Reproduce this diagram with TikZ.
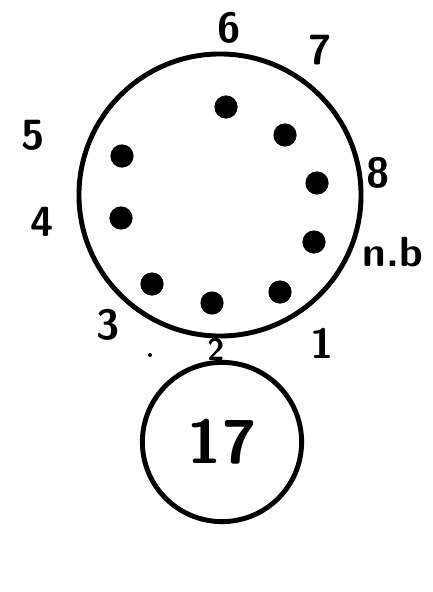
\documentclass[tikz,border=0pt]{standalone}
\usetikzlibrary{positioning}
\begin{document}
\begin{tikzpicture}[x=0.025cm,y=-0.025cm,line cap=round,line join=round]
  \tikzset{
    pin/.style={circle,fill,inner sep=0pt,minimum size=0.58cm},
    rim/.style={draw,circle,line width=3.5pt,inner sep=0pt},
    pinlabel/.style={font=\fontsize{30}{30}\selectfont\sffamily\bfseries,inner sep=0pt},
  }
  \useasboundingbox (0,0) rectangle (433,592);

  % Socket and base
  \node[rim,minimum size=7.05cm] (socket) at (220,195) {};
  \node[rim,minimum size=3.98cm,font=\fontsize{44}{44}\selectfont\sffamily\bfseries] (base) at (222,442) {17};

  % Pins
  \foreach \px/\py [count=\i] in {226/107,285/135,317/183,314/242,280/292,212/303,152/284,121/218,122/156}
    \node[pin] (p\i) at (\px,\py) {};

  % Pin numbers
  \node[pinlabel] (l1) at (322,343) {1};
  \node[pinlabel,font=\fontsize{22}{22}\selectfont\sffamily\bfseries] (l2) at (216,349) {2};
  \node[pinlabel] (l3) at (108,325) {3};
  \node[pinlabel] (l4) at (42,222) {4};
  \node[pinlabel] (l5) at (33,135) {5};
  \node[pinlabel] (l6) at (229,28) {6};
  \node[pinlabel] (l7) at (320,50) {7};
  \node[pinlabel] (l8) at (378,173) {8};
  \node[pinlabel] (nb) at (393,252) {n.b};

  % stray mark
  \fill (150,355) circle (2);
\end{tikzpicture}
\end{document}
